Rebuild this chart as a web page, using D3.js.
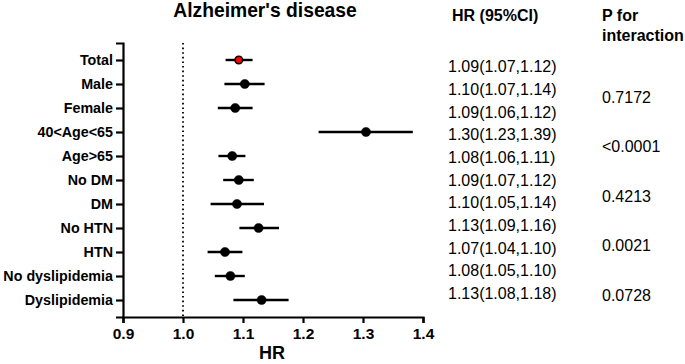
<!DOCTYPE html>
<html>
<head>
<meta charset="utf-8">
<script src="https://cdn.jsdelivr.net/npm/d3@7"></script>
<style>
  body { margin: 0; background: #fff; }
  svg { font-family: "Liberation Sans", Arial, sans-serif; }
</style>
</head>
<body>
<svg id="drawing_region"></svg>
<script>
// subgroups, top to bottom
const categories = ['Total', 'Male', 'Female', '40<Age<65 ', 'Age>65', 'No DM', 'DM', 'No HTN', 'HTN', 'No dyslipidemia', 'Dyslipidemia'];
const hr    = [1.093, 1.103, 1.087, 1.305, 1.082, 1.093, 1.090, 1.126, 1.070, 1.079, 1.131];
const lower = [1.071, 1.069, 1.058, 1.226, 1.059, 1.067, 1.046, 1.094, 1.041, 1.053, 1.084];
const upper = [1.116, 1.136, 1.116, 1.383, 1.104, 1.118, 1.135, 1.160, 1.099, 1.103, 1.176];
const hrLabels = ['1.09(1.07,1.12)', '1.10(1.07,1.14)', '1.09(1.06,1.12)', '1.30(1.23,1.39)', '1.08(1.06,1.11)',
                  '1.09(1.07,1.12)', '1.10(1.05,1.14)', '1.13(1.09,1.16)', '1.07(1.04,1.10)', '1.08(1.05,1.10)', '1.13(1.08,1.18)'];
const pValues = ['0.7172', '<0.0001', '0.4213', '0.0021', '0.0728'];
const xTicks = [0.9, 1.0, 1.1, 1.2, 1.3, 1.4];

const data = categories.map((c, i) => ({ name: c, hr: hr[i], lo: lower[i], hi: upper[i], label: hrLabels[i] }));

const config = {
    width: 685,
    height: 364,
    margin: {top: 43, left: 123}
};
const inner_width = 300;
const inner_height = 274;

const svg = d3.select('#drawing_region')
    .attr('width', config.width)
    .attr('height', config.height);

const chart = svg.append('g')
    .attr('transform', `translate(${config.margin.left}, ${config.margin.top})`);

const xscale = d3.scaleLinear().domain([0.9, 1.4]).range([0, inner_width]);
const yscale = d3.scalePoint().domain(categories).range([0, inner_height]).padding(0.708);

// reference line at HR = 1
chart.append('line')
    .attr('x1', xscale(1)).attr('x2', xscale(1))
    .attr('y1', 0).attr('y2', inner_height)
    .attr('stroke', '#000')
    .attr('stroke-width', 1.8)
    .attr('stroke-dasharray', '1.6,3');

// axes
const xaxis = d3.axisBottom(xscale).tickValues(xTicks).tickFormat(d3.format('.1f')).tickSizeOuter(0).tickSize(6).tickPadding(5);
const yaxis = d3.axisLeft(yscale).tickSizeOuter(0).tickSize(7).tickPadding(3);

const xg = chart.append('g')
    .attr('transform', `translate(0, ${inner_height})`)
    .call(xaxis);
const yg = chart.append('g').call(yaxis);

[xg, yg].forEach(g => {
    g.select('.domain').attr('stroke-width', 2.2).attr('stroke', '#000');
    g.selectAll('.tick line').attr('stroke-width', 2.2).attr('stroke', '#000');
    g.selectAll('.tick text')
        .attr('fill', '#000')
        .attr('font-family', '"Liberation Sans", Arial, sans-serif')
        .attr('font-weight', 'bold');
});
xg.selectAll('.tick text').attr('font-size', 15.5);
yg.selectAll('.tick text').attr('font-size', 14.3);

// error bars
chart.selectAll('.ci')
    .data(data)
    .join('line')
    .attr('class', 'ci')
    .attr('x1', d => xscale(d.lo))
    .attr('x2', d => xscale(d.hi))
    .attr('y1', d => yscale(d.name))
    .attr('y2', d => yscale(d.name))
    .attr('stroke', '#000')
    .attr('stroke-width', 2.4);

chart.selectAll('.pt')
    .data(data)
    .join('circle')
    .attr('class', 'pt')
    .attr('cx', d => xscale(d.hr))
    .attr('cy', d => yscale(d.name))
    .attr('r', d => d.name === 'Total' ? 3.8 : 4.6)
    .attr('fill', d => d.name === 'Total' ? '#ff0000' : '#000')
    .attr('stroke', '#000')
    .attr('stroke-width', d => d.name === 'Total' ? 1.6 : 0.5);

// titles
svg.append('text')
    .attr('x', 265).attr('y', 17)
    .attr('text-anchor', 'middle')
    .attr('font-size', 19.3)
    .attr('font-weight', 'bold')
    .text("Alzheimer's disease");

svg.append('text')
    .attr('x', config.margin.left + inner_width / 2 - 1).attr('y', 359)
    .attr('text-anchor', 'middle')
    .attr('font-size', 18)
    .attr('font-weight', 'bold')
    .text('HR');

// table columns
svg.append('text')
    .attr('x', 452).attr('y', 15).attr('dy', '0.35em')
    .attr('font-size', 16).attr('font-weight', 'bold')
    .text('HR (95%CI)');

svg.append('text')
    .attr('x', 602).attr('y', 15).attr('dy', '0.35em')
    .attr('font-size', 16).attr('font-weight', 'bold')
    .text('P for');
svg.append('text')
    .attr('x', 602).attr('y', 35).attr('dy', '0.35em')
    .attr('font-size', 16).attr('font-weight', 'bold')
    .text('interaction');

const rowscale = d3.scaleLinear().domain([0, categories.length - 1]).range([66.7, 293.3]);
svg.selectAll('.hrtext')
    .data(data)
    .join('text')
    .attr('class', 'hrtext')
    .attr('x', 448)
    .attr('y', (d, i) => rowscale(i))
    .attr('dy', '0.35em')
    .attr('font-size', 16)
    .text(d => d.label);

const pscale = d3.scaleLinear().domain([0, pValues.length - 1]).range([97, 295]);
svg.selectAll('.ptext')
    .data(pValues)
    .join('text')
    .attr('class', 'ptext')
    .attr('x', 602)
    .attr('y', (d, i) => pscale(i))
    .attr('dy', '0.35em')
    .attr('font-size', 16)
    .text(d => d);
</script>
</body>
</html>
